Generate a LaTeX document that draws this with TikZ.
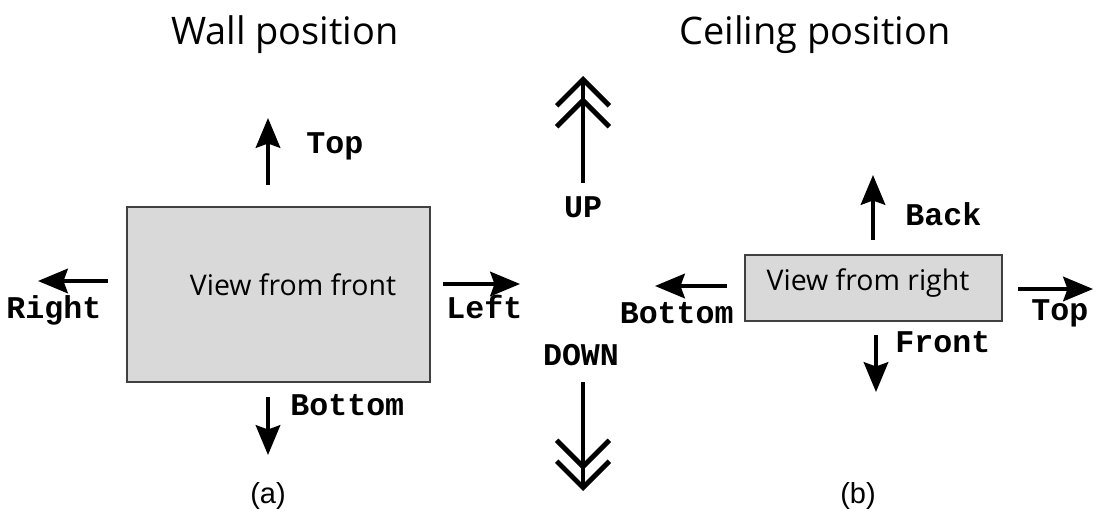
\documentclass[tikz,border=0pt]{standalone}
\usepackage{fontspec}
\setmainfont{Liberation Sans}
\newfontfamily\viewfont{Open Sans}
\newfontfamily\dirfont{Liberation Mono}
\usetikzlibrary{arrows.meta}

\begin{document}
\begin{tikzpicture}[x=0.02cm, y=-0.02cm,
    dir/.style={line width=1.9pt, -{Stealth[length=17pt, width=14pt, inset=2.5pt]}},
    bigdir/.style={line width=2.3pt, -{Straight Barb[length=15pt, width=30pt, line width=2.8pt, sep=-6.5pt] Straight Barb[length=15pt, width=30pt, line width=2.8pt]}},
    dirlabel/.style={font=\dirfont\bfseries\fontsize{18}{18}\selectfont, inner sep=0pt},
    heading/.style={font=\viewfont\fontsize{21.6}{21.6}\selectfont, inner sep=0pt},
    viewbox/.style={draw=black!75, fill=black!15, line width=0.9pt, inner sep=0pt},
    viewtext/.style={font=\viewfont\fontsize{16.2}{16.2}\selectfont, inner sep=0pt},
    caption/.style={font=\fontsize{16.5}{16.5}\selectfont, inner sep=0pt}]
    \useasboundingbox (0,0) rectangle (1093,524);

    % Naglowki
    \node[heading, anchor=base] (wallhead) at (285,44) {Wall position};
    \node[heading, anchor=base] (ceilhead) at (815,44) {Ceiling position};

    % Pozycja sciana
    \node[viewbox, minimum width=6.06cm, minimum height=3.5cm] (front) at (278.5,294.5) {};
    \node[viewtext] (fronttext) at (293,285) {View from front};

    \coordinate (wT1) at (268,185); \coordinate (wT2) at (268,118);
    \coordinate (wR1) at (108,281); \coordinate (wR2) at (38,281);
    \coordinate (wL1) at (443,284); \coordinate (wL2) at (520,284);
    \coordinate (wB1) at (268,397); \coordinate (wB2) at (268,455);

    \draw[dir] (wT1) -- (wT2);
    \draw[dir] (wR1) -- (wR2);
    \draw[dir] (wL1) -- (wL2);
    \draw[dir] (wB1) -- (wB2);

    \node[dirlabel, anchor=base west] (wtop) at (306,153) {Top};
    \node[dirlabel, anchor=base west] (wright) at (6,318) {Right};
    \node[dirlabel, anchor=base west] (wleft) at (446,318) {Left};
    \node[dirlabel, anchor=base west] (wbottom) at (290,415) {Bottom};

    % Gora i dol
    \coordinate (up1) at (583,183); \coordinate (up2) at (583,76);
    \coordinate (dn1) at (583,382); \coordinate (dn2) at (583,491);
    \draw[bigdir] (up1) -- (up2);
    \draw[bigdir] (dn1) -- (dn2);
    \node[dirlabel, anchor=base] (uplabel) at (583,217) {UP};
    \node[dirlabel, anchor=base] (dnlabel) at (581,365) {DOWN};

    % Pozycja sufit
    \node[viewbox, minimum width=5.14cm, minimum height=1.32cm] (right) at (873.5,288) {};
    \node[viewtext] (righttext) at (868,283) {View from right};

    \coordinate (cB1) at (873,240); \coordinate (cB2) at (873,175);
    \coordinate (cD1) at (727,286); \coordinate (cD2) at (655,286);
    \coordinate (cT1) at (1018,289); \coordinate (cT2) at (1093,289);
    \coordinate (cF1) at (876,335); \coordinate (cF2) at (876,392);

    \draw[dir] (cB1) -- (cB2);
    \draw[dir] (cD1) -- (cD2);
    \draw[dir] (cT1) -- (cT2);
    \draw[dir] (cF1) -- (cF2);

    \node[dirlabel, anchor=base west] (cback) at (905,225) {Back};
    \node[dirlabel, anchor=base east] (cbottom) at (734,323) {Bottom};
    \node[dirlabel, anchor=base west] (ctop) at (1031,320) {Top};
    \node[dirlabel, anchor=base west] (cfront) at (895,352) {Front};

    % Podpisy
    \node[caption, anchor=base] (capa) at (268,503) {(a)};
    \node[caption, anchor=base] (capb) at (858,503) {(b)};
\end{tikzpicture}
\end{document}
